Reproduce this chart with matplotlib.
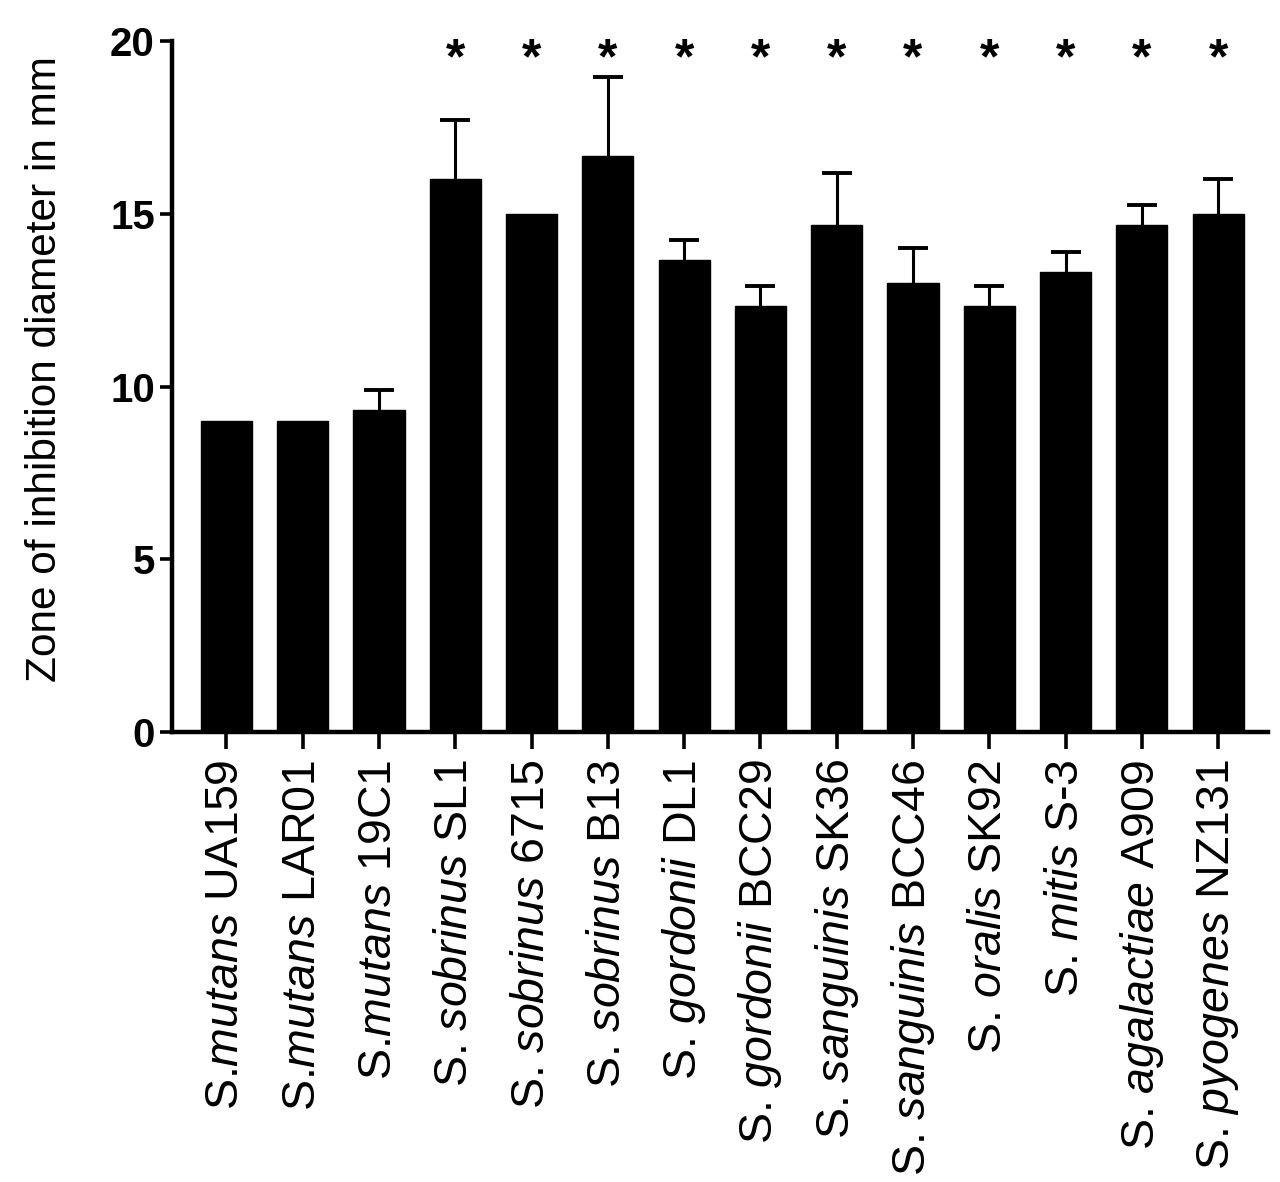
import numpy as np
import matplotlib
matplotlib.use("Agg")
from matplotlib import pyplot as plt

plt.rcParams['font.family'] = ['Liberation Sans', 'DejaVu Sans']
plt.rcParams['mathtext.fontset'] = 'custom'
plt.rcParams['mathtext.rm'] = 'Liberation Sans'
plt.rcParams['mathtext.it'] = 'Liberation Sans:italic'
plt.rcParams['mathtext.bf'] = 'Liberation Sans:bold'

# 菌株 (species italic, strain upright)
species = ["mutans", "mutans", "mutans", "sobrinus", "sobrinus", "sobrinus",
           "gordonii", "gordonii", "sanguinis", "sanguinis", "oralis", "mitis",
           "agalactiae", "pyogenes"]
prefix = ["S.", "S.", "S.", "S. ", "S. ", "S. ", "S. ", "S. ", "S. ", "S. ",
          "S. ", "S. ", "S. ", "S. "]
strains = ["UA159", "LAR01", "19C1", "SL1", "6715", "B13", "DL1", "BCC29",
           "SK36", "BCC46", "SK92", "S-3", "A909", "NZ131"]
# 抑菌圈直径 (mm) 和误差
means = [9.0, 9.0, 9.33, 16.0, 15.0, 16.67, 13.67, 12.33, 14.67, 13.0,
         12.33, 13.33, 14.67, 15.0]
errors = [0.0, 0.0, 0.58, 1.73, 0.0, 2.31, 0.58, 0.58, 1.53, 1.0,
          0.58, 0.58, 0.58, 1.0]
significant = [False, False, False, True, True, True, True, True, True,
               True, True, True, True, True]

labels = []
for p, s, st in zip(prefix, species, strains):
    labels.append(p + r"$\mathit{" + s + "}$ " + st)

fig = plt.figure(figsize=(12.8, 11.82), dpi=100)
ax = fig.add_axes([0.134, 0.381, 0.857, 0.584])

x = np.arange(len(means))
ax.bar(x, means, width=0.67, color="black", edgecolor="black", zorder=2)
#  只画有误差的柱子
ex = [xi for xi, e in zip(x, errors) if e > 0]
em = [m for m, e in zip(means, errors) if e > 0]
ee = [e for e in errors if e > 0]
ax.errorbar(ex, em, yerr=ee, fmt="none", ecolor="black", elinewidth=2.2,
            capsize=11, capthick=2.8, zorder=1)

#  显著性星号
for xi, sig in zip(x, significant):
    if sig:
        ax.text(xi, 19.45, "*", ha="center", va="center", fontsize=36,
                fontweight="bold")

ax.set_xlim(-0.72, 13.66)
ax.set_ylim(0, 20)
ax.set_yticks([0, 5, 10, 15, 20])
ax.set_yticklabels(["0", "5", "10", "15", "20"], fontsize=29, fontweight="bold")
ax.set_xticks(x)
ax.set_xticklabels(labels, rotation=90, fontsize=33.5)
ax.set_ylabel("Zone of inhibition diameter in mm", fontsize=30.5)
ax.yaxis.set_label_coords(-0.097, 0.525)

for side in ["top", "right"]:
    ax.spines[side].set_visible(False)
for side in ["left", "bottom"]:
    ax.spines[side].set_linewidth(3.2)
ax.tick_params(axis="y", length=9, width=2.6, pad=3)
ax.tick_params(axis="x", length=12, width=2.6, pad=8)

fig.savefig("out.png", dpi=100)
